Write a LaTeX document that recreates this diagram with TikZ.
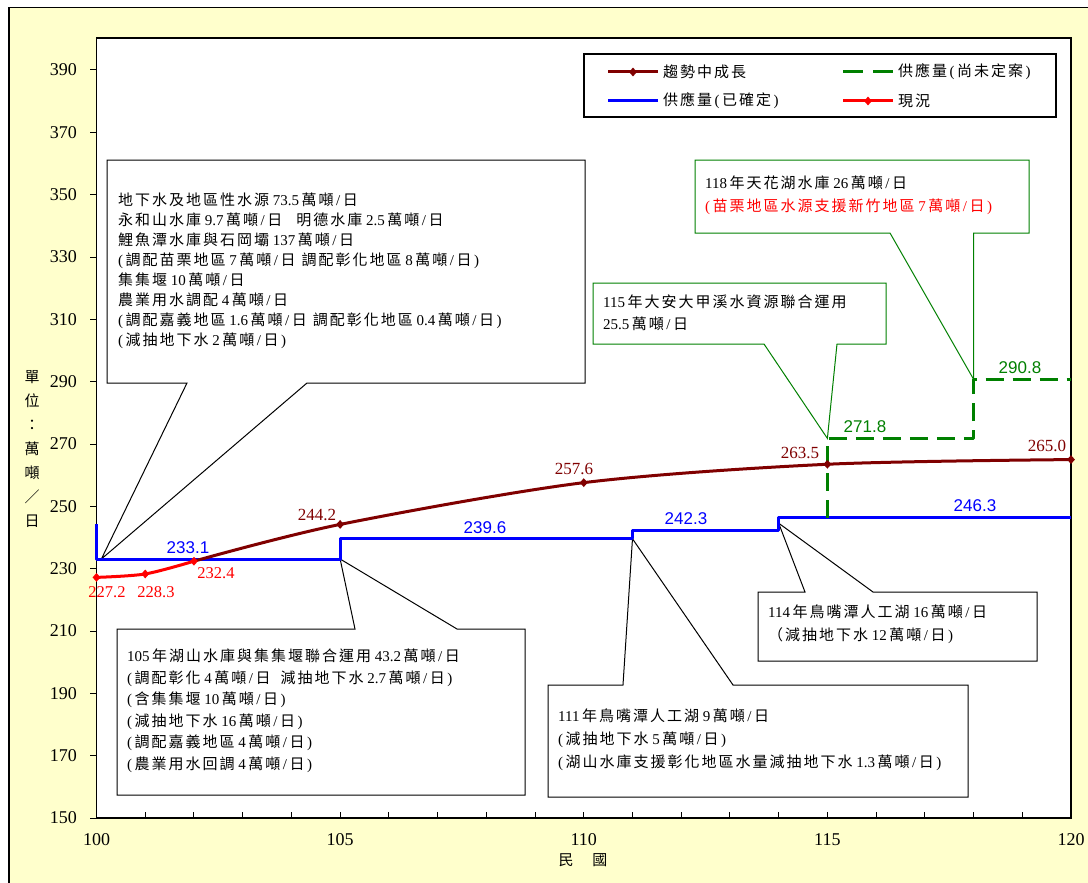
\documentclass[tikz,border=0pt]{standalone}
\usepackage{fontspec}
\setmainfont{Liberation Serif}
\setsansfont{Liberation Sans}
\newfontfamily\cjkfont{Noto Sans CJK TC}
\newcommand\latinfont{\rmfamily}
% automatic switching between Latin and CJK fonts, with ideographic letter spacing
\XeTeXinterchartokenstate=1
\newXeTeXintercharclass\CJKcls
\newcount\cjkcnt
\def\setcjkrange#1#2{\cjkcnt=#1\relax
  \loop\XeTeXcharclass\cjkcnt=\CJKcls\advance\cjkcnt by 1\relax\ifnum\cjkcnt<#2\repeat}
\setcjkrange{"3000}{"3040}
\setcjkrange{"4E00}{"A000}
\setcjkrange{"FF00}{"FFF0}
\newlength\cjkgap \setlength\cjkgap{2pt}
\XeTeXinterchartoks 0 \CJKcls = {\hskip2.5pt\cjkfont}
\XeTeXinterchartoks 4095 \CJKcls = {\cjkfont}
\XeTeXinterchartoks \CJKcls 0 = {\hskip2.5pt\latinfont}
\XeTeXinterchartoks \CJKcls 4095 = {\latinfont}
\XeTeXinterchartoks \CJKcls \CJKcls = {\hskip\cjkgap}
\usetikzlibrary{shapes.geometric}
\definecolor{bgyellow}{HTML}{FFFFCC}
\definecolor{trendred}{HTML}{800000}
\definecolor{supgreen}{HTML}{008000}
\definecolor{supblue}{HTML}{0000FF}
\definecolor{nowred}{HTML}{FF0000}
\begin{document}
\begin{tikzpicture}[x=1pt,y=-1pt,
  callout/.style={draw=black, line width=1pt, fill=white},
  gcallout/.style={draw=supgreen, line width=1pt, fill=white},
  boxtext/.style={anchor=north west, inner sep=0pt, align=left, font=\fontsize{15}{20}\selectfont},
  marker/.style={diamond, inner sep=0pt, minimum width=8pt, minimum height=9pt, draw=none},
  ticklab/.style={inner sep=0pt, font=\fontsize{18}{20}\selectfont},
  sanslab/.style={inner sep=0pt, font=\fontsize{17}{20}\sffamily},
  seriflab/.style={inner sep=0pt, font=\fontsize{17}{20}\selectfont},
  series/.style={line width=3pt, line join=round},
  legtext/.style={anchor=west, inner sep=0pt, font=\fontsize{15}{16}\selectfont},
]
\useasboundingbox (0,0) rectangle (1088,883);
\fill[white] (0,0) rectangle (1088,883);
\draw[fill=bgyellow, line width=1.2pt] (9,7.5) rectangle (1110,900);
\draw[fill=white, line width=1.5pt] (96.5,38) rectangle (1071,818);

% axes: ticks and labels
\foreach \v in {150,170,...,390}{
  \pgfmathsetmacro\yy{818-(\v-150)*3.11667}
  \draw[line width=1pt] (90,\yy) -- (96.5,\yy);
  \node[ticklab, anchor=east] (y\v) at (77,\yy) {\v};
}
\foreach \k in {1,...,19}{
  \draw[line width=1pt] ({96.5+\k*48.725},818) -- ++(0,-6);
}
\foreach \yr in {100,105,...,120}{
  \node[ticklab] (x\yr) at ({96.5+(\yr-100)*48.725},840) {\yr};
}
\node[inner sep=0pt, font=\fontsize{15}{16}\selectfont] (xtitle) at (583,860) {民　國};
\node[inner sep=0pt, align=center, font=\fontsize{15}{24}\selectfont] (ytitle) at (32,449)
  {單\\位\\：\\萬\\噸\\／\\日};

% data coordinates: years since 100, values above 150
\begin{scope}[shift={(96.5,818)}, x=48.725pt, y=3.11667pt]
  \coordinate (r0) at (0,77.2);
  \coordinate (r1) at (1,78.3);
  \coordinate (r2) at (2,82.4);
  \coordinate (t5) at (5,94.2);
  \coordinate (t10) at (10,107.6);
  \coordinate (t15) at (15,113.5);
  \coordinate (t20) at (20,115.0);
  \coordinate (b0) at (0,94.3);
  \coordinate (b1) at (0,83.1);
  \coordinate (b2) at (5,83.1);
  \coordinate (b3) at (5,89.6);
  \coordinate (b4) at (11,89.6);
  \coordinate (b5) at (11,92.3);
  \coordinate (b6) at (14,92.3);
  \coordinate (b7) at (14,96.3);
  \coordinate (b8) at (20,96.3);
  \coordinate (g0) at (15,96.3);
  \coordinate (g1) at (15,121.8);
  \coordinate (g2) at (18,121.8);
  \coordinate (g3) at (18,140.8);
  \coordinate (g4) at (20,140.8);
  \coordinate (k1) at (0.1,83.1);
  \coordinate (k2) at (5,83.1);
  \coordinate (k3) at (11,89.6);
  \coordinate (k4) at (14,94.6);
  \coordinate (k5) at (15,121.8);
  \coordinate (k6) at (18,140.8);
\end{scope}

% callout boxes
\draw[callout] (107,160) -- (585,160) -- (585,383) -- (307,383) -- (k1) -- (187,383) -- (107,383) -- cycle;
\draw[callout] (117,629) -- (355,629) -- (k2) -- (457,629) -- (525,629) -- (525,795) -- (117,795) -- cycle;
\draw[callout] (548,685) -- (623,685) -- (k3) -- (733,685) -- (968,685) -- (968,797) -- (548,797) -- cycle;
\draw[callout] (758,592) -- (805,592) -- (k4) -- (873,592) -- (1037,592) -- (1037,661) -- (758,661) -- cycle;
\draw[gcallout] (593,283) -- (886,283) -- (886,344) -- (837,344) -- (k5) -- (764,344) -- (593,344) -- cycle;
\draw[gcallout] (695,160) -- (1029,160) -- (1029,233) -- (973.5,233) -- (k6) -- (890,233) -- (695,233) -- cycle;

\node[boxtext] (txtA) at (118,193) {地下水及地區性水源 73.5萬噸/日\\
永和山水庫 9.7萬噸/日\hspace{14pt}明德水庫 2.5萬噸/日\\
鯉魚潭水庫與石岡壩 137萬噸/日\\
(調配苗栗地區 7萬噸/日\hspace{6pt}調配彰化地區 8萬噸/日)\\
集集堰 10萬噸/日\\
農業用水調配 4萬噸/日\\
(調配嘉義地區 1.6萬噸/日\hspace{6pt}調配彰化地區 0.4萬噸/日)\\
(減抽地下水 2萬噸/日)};
\node[boxtext, font=\fontsize{15}{21.5}\selectfont] (txtB) at (127,649) {105年湖山水庫與集集堰聯合運用 43.2萬噸/日\\
(調配彰化 4萬噸/日\hspace{10pt}減抽地下水 2.7萬噸/日)\\
(含集集堰 10萬噸/日)\\
(減抽地下水 16萬噸/日)\\
(調配嘉義地區 4萬噸/日)\\
(農業用水回調 4萬噸/日)};
\node[boxtext, font=\fontsize{15}{23}\selectfont] (txtC) at (558,709) {111年鳥嘴潭人工湖 9萬噸/日\\
(減抽地下水 5萬噸/日)\\
(湖山水庫支援彰化地區水量減抽地下水 1.3萬噸/日)};
\node[boxtext, font=\fontsize{15}{23}\selectfont] (txtD) at (768,605) {114年鳥嘴潭人工湖 16萬噸/日\\
（減抽地下水 12萬噸/日)};
\node[boxtext, font=\fontsize{15}{22}\selectfont] (txtE) at (603,295) {115年大安大甲溪水資源聯合運用\\
25.5萬噸/日};
\node[boxtext, font=\fontsize{15}{23}\selectfont] (txtF) at (705,176) {118年天花湖水庫 26萬噸/日\\
\textcolor{nowred}{(苗栗地區水源支援新竹地區 7萬噸/日)}};

% supply steps and growth curves
\draw[series, supblue, line cap=butt] (b0) -- (b1) -- (b2) -- (b3) -- (b4) -- (b5) -- (b6) -- (b7) -- (b8);
\draw[series, supgreen, dash pattern=on 18pt off 9pt] (g0) -- (g1) -- (g2) -- (g3) -- (g4);
\draw[series, trendred] plot[smooth, tension=0.5] coordinates {(r2) (t5) (t10) (t15) (t20)};
\draw[series, nowred] plot[smooth, tension=0.5] coordinates {(r0) (r1) (r2)};
\foreach \c in {t5,t10,t15,t20}{ \node[marker, fill=trendred] (m\c) at (\c) {}; }
\foreach \c in {r0,r1,r2}{ \node[marker, fill=nowred] (m\c) at (\c) {}; }

% value labels
\node[sanslab, text=supblue] (v1) at (188,548) {233.1};
\node[sanslab, text=supblue] (v2) at (485,528) {239.6};
\node[sanslab, text=supblue] (v3) at (686,519) {242.3};
\node[sanslab, text=supblue] (v4) at (975,506) {246.3};
\node[sanslab, text=supgreen] (v5) at (865,427) {271.8};
\node[sanslab, text=supgreen] (v6) at (1020,368) {290.8};
\node[seriflab, text=trendred] (v7) at (317,515) {244.2};
\node[seriflab, text=trendred] (v8) at (574,469) {257.6};
\node[seriflab, text=trendred] (v9) at (800,453) {263.5};
\node[seriflab, text=trendred] (v10) at (1047,446) {265.0};
\node[seriflab, text=nowred, font=\fontsize{16.5}{20}\selectfont] (v11) at (107,592) {227.2};
\node[seriflab, text=nowred, font=\fontsize{16.5}{20}\selectfont] (v12) at (156,592) {228.3};
\node[seriflab, text=nowred, font=\fontsize{16.5}{20}\selectfont] (v13) at (216,573) {232.4};

% legend
\draw[line width=1.2pt, fill=white] (584,54) rectangle (1056,117);
\coordinate (la1) at (608,72);  \coordinate (la2) at (658,72);
\coordinate (lb1) at (843,72);  \coordinate (lb2) at (893,72);
\coordinate (lc1) at (608,101); \coordinate (lc2) at (658,101);
\coordinate (ld1) at (843,101); \coordinate (ld2) at (893,101);
\draw[series, trendred] (la1) -- (la2);
\node[marker, fill=trendred] (lma) at (633,72) {};
\draw[series, supgreen, dash pattern=on 20pt off 10pt] (lb1) -- (lb2);
\draw[series, supblue] (lc1) -- (lc2);
\draw[series, nowred] (ld1) -- (ld2);
\node[marker, fill=nowred] (lmd) at (868,101) {};
\node[legtext] (lta) at (663,72) {趨勢中成長};
\node[legtext] (ltb) at (898,72) {供應量(尚未定案)};
\node[legtext] (ltc) at (663,101) {供應量(已確定)};
\node[legtext] (ltd) at (898,101) {現況};
\end{tikzpicture}
\end{document}
